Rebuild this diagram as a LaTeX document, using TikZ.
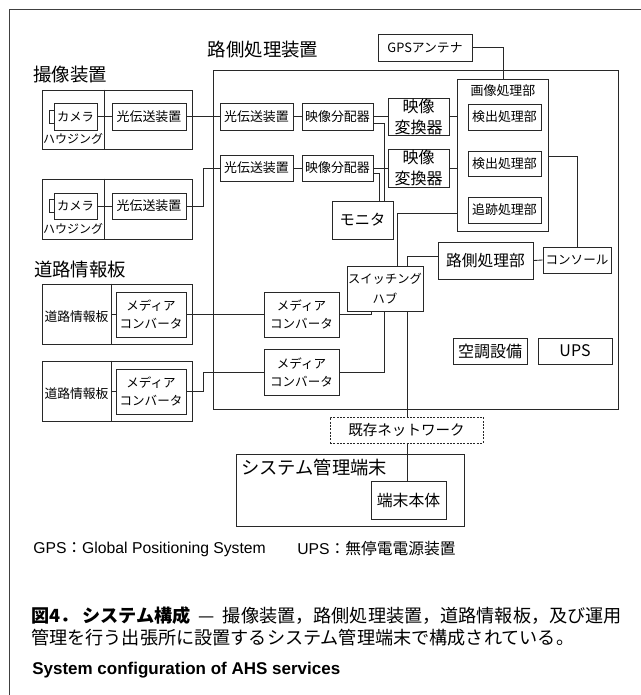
\documentclass[tikz,border=0pt]{standalone}
\usepackage{fontspec}
\setmainfont{Noto Sans CJK JP}
\newfontfamily\lat{Liberation Sans}
\definecolor{ln}{RGB}{40,40,40}
\newcommand\fsz[2]{\fontsize{#1pt}{#2pt}\selectfont}
% box from (x1,y1) to (x2,y2) in px units
\newcommand\bx[6][]{\node[box,#1,minimum width={(#4-#2)*0.75pt},minimum height={(#5-#3)*0.75pt}] (#6) at ({(#2+#4)/2},{(#3+#5)/2})}
\begin{document}
\begin{tikzpicture}[x=0.75pt,y=-0.75pt,
  box/.style={draw=ln, line width=0.65pt, inner sep=0pt, align=center, font=\fsz{9.7}{13.5}},
  conn/.style={draw=ln, line width=0.65pt},
  head/.style={font=\fsz{13.8}{16}, inner sep=0pt},
  txt/.style={inner sep=0pt, align=center}]
\useasboundingbox (0,0) rectangle (641,695);
% outer frame
\draw[draw=black!75, line width=0.6pt] (9,695) -- (9,9) -- (641,9);

% headings
\node[head] (hRs) at (263,50) {路側処理装置};
\node[head] (hCam) at (70,75) {撮像装置};
\node[head] (hRb) at (80,270) {道路情報板};

% camera group 1
\bx{42}{90}{192}{149}{cg1} {};
\bx[font=\fsz{9.2}{11}]{54}{103}{97}{130}{cam1} {カメラ};
\bx{49}{110}{54}{123}{lens1} {};
\node[txt, font=\fsz{9}{11}] (hou1) at (73,138.5) {ハウジング};
\bx{112}{103}{186}{130}{ot1} {光伝送装置};
\draw[conn] (cg1.north -| 104,0) -- (cg1.south -| 104,0);
% camera group 2
\bx{42}{179}{192}{239}{cg2} {};
\bx[font=\fsz{9.2}{11}]{54}{193}{97}{219}{cam2} {カメラ};
\bx{49}{199.5}{54}{212.5}{lens2} {};
\node[txt, font=\fsz{9}{11}] (hou2) at (73,229) {ハウジング};
\bx{112}{193}{186}{219}{ot2} {光伝送装置};
\draw[conn] (cg2.north -| 104,0) -- (cg2.south -| 104,0);

% road board groups
\bx{42}{284}{192}{344}{rg1} {};
\node[txt, font=\fsz{9.6}{11}] (rb1) at (76.5,317) {道路情報板};
\bx[font=\fsz{9.4}{13.5}]{116}{292}{186}{337}{mc1} {メディア\\コンバータ};
\draw[conn] (rg1.north -| 111,0) -- (rg1.south -| 111,0);
\bx{42}{361}{192}{421}{rg2} {};
\node[txt, font=\fsz{9.6}{11}] (rb2) at (76.5,394) {道路情報板};
\bx[font=\fsz{9.4}{13.5}]{116}{369}{186}{414}{mc2} {メディア\\コンバータ};
\draw[conn] (rg2.north -| 111,0) -- (rg2.south -| 111,0);

% roadside frame
\bx{213}{70}{618}{409}{rs} {};
\bx[font=\fsz{9.6}{11}]{378}{34}{472}{61}{gps} {GPSアンテナ};
\bx{457}{79}{548}{231}{img} {};
\node[txt, font=\fsz{9.7}{11}] (imglbl) at (503,91) {画像処理部};
\bx[font=\fsz{9.7}{11}]{468}{104}{541}{130}{det1} {検出処理部};
\bx[font=\fsz{9.7}{11}]{468}{151}{541}{176}{det2} {検出処理部};
\bx[font=\fsz{9.7}{11}]{468}{197}{541}{223}{trk} {追跡処理部};

\bx{220}{103}{293}{130}{rot1} {光伝送装置};
\bx{220}{155}{293}{181}{rot2} {光伝送装置};
\bx{302}{103}{373}{130}{dist1} {映像分配器};
\bx{302}{155}{373}{181}{dist2} {映像分配器};
\bx[font=\fsz{12}{15.75}]{388}{98}{449}{135}{conv1} {映像\\変換器};
\bx[font=\fsz{12}{15.75}]{388}{149}{449}{187}{conv2} {映像\\変換器};
\bx[font=\fsz{11.4}{13}]{332}{201}{393}{239}{mon} {モニタ};
\bx[font=\fsz{9.2}{15}]{347}{266}{423}{311}{hub} {スイッチング\\ハブ};
\bx[font=\fsz{11.8}{13}]{438}{242}{533}{279}{rsp} {路側処理部};
\bx[font=\fsz{9.4}{11}]{543}{247}{611}{273}{con} {コンソール};
\bx[font=\fsz{12}{13}]{453}{338}{527}{364}{ac} {空調設備};
\bx[font=\fsz{12}{13}]{538}{338}{612}{364}{ups} {UPS};
\bx[font=\fsz{9.4}{13.5}]{264}{292}{339}{337}{mc3} {メディア\\コンバータ};
\bx[font=\fsz{9.4}{13.5}]{264}{349}{339}{395}{mc4} {メディア\\コンバータ};

% network and management terminal
\bx[dash pattern=on 1.5pt off 1pt, font=\fsz{10.9}{12}]{330}{417}{483}{443}{net} {既存ネットワーク};
\bx{236}{454}{464}{526}{sys} {};
\node[txt, font=\fsz{13.7}{15}, anchor=west] (syslbl) at (241,468) {システム管理端末};
\bx[font=\fsz{11.9}{13}]{371}{481}{446}{519}{term} {端末本体};

% connectors
\draw[conn] (cam1.east) -- (ot1.west);
\draw[conn] (cam2.east) -- (ot2.west);
\draw[conn] (ot1.east) -- (rot1.west);
\draw[conn] (ot2.east) -- (ot2.east -| 203,0) |- (rot2.west);
\draw[conn] (rot1.east) -- (dist1.west);
\draw[conn] (rot2.east) -- (dist2.west);
\draw[conn] (dist1.east) -- (conv1.west);
\draw[conn] (dist2.east) -- (conv2.west);
\draw[conn] (conv1.east) -- (img.west |- conv1.east);
\draw[conn] (conv2.east) -- (img.west |- conv2.east);
\draw[conn] (dist1.east |- 0,123) -| (mon.north -| 384,0);
\draw[conn] (dist2.east |- 0,173) -| (mon.north -| 379,0);
\draw[conn] (gps.east) -| (img.north -| 503,0);
\draw[conn] (hub.north -| 397,0) |- (img.west |- 0,213);
\draw[conn] (hub.north -| 407,0) |- (rsp.west |- 0,256);
\draw[conn] (rsp.east) -- (con.west);
\draw[conn] (con.north) |- (img.east |- 0,156);
\draw[conn] (mc1.west) -- (mc1.west -| 111,0);
\draw[conn] (mc2.west) -- (mc2.west -| 111,0);
\draw[conn] (mc1.east) -- (mc3.west);
\draw[conn] (mc2.east) -- (mc2.east -| 203,0) |- (mc4.west);
\draw[conn] (mc3.east) -| (hub.south -| 371,0);
\draw[conn] (mc4.east) -| (hub.south -| 384,0);
\draw[conn] (hub.south -| 407,0) -- (net.north -| 407,0);
\draw[conn] (net.south -| 407,0) -- (term.north -| 407,0);

% footnotes
\node[txt, anchor=west] (fnG) at (33,549) {\fsz{11.8}{13}{\lat GPS}：{\lat Global Positioning System}};
\node[txt, anchor=west] (fnU) at (297,549) {\fsz{11.8}{13}{\lat UPS}：無停電電源装置};

% caption
\node[txt, anchor=west] (cap1) at (31,616) {\fsz{13.6}{16}\textbf{図4．\hspace{0.2em}システム構成}\hspace{0.45em}—\hspace{0.45em}撮像装置，路側処理装置，道路情報板，及び運用};
\node[txt, anchor=west] (cap2) at (31,638) {\fsz{13.6}{16}管理を行う出張所に設置するシステム管理端末で構成されている。};
\node[txt, anchor=west] (cap3) at (32,670) {\fsz{12.75}{15}\lat\bfseries System configuration of AHS services};
\end{tikzpicture}
\end{document}
